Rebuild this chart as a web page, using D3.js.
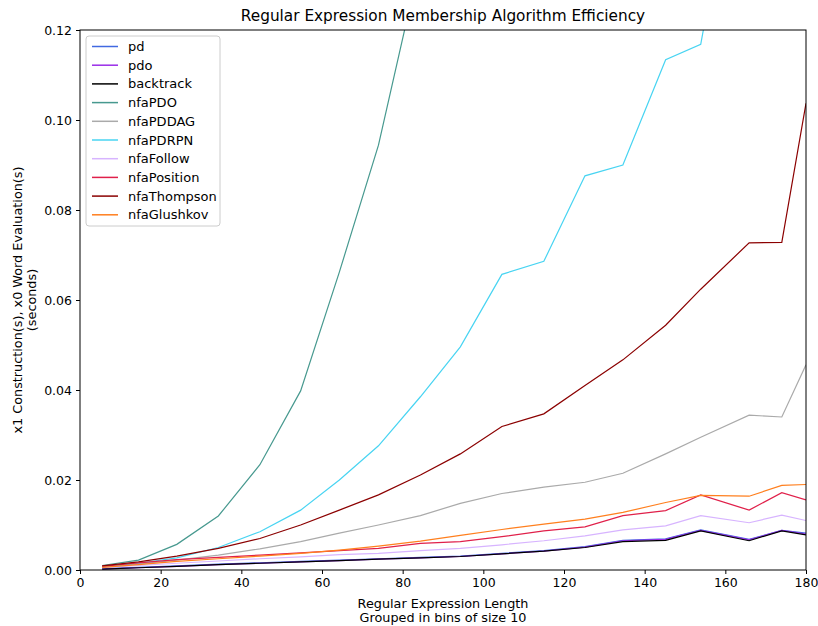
<!DOCTYPE html>
<html>
<head>
<meta charset="utf-8">
<script src="https://cdn.jsdelivr.net/npm/d3@7"></script>
<style>
  body { margin: 0; background: #fff; }
  text { font-family: "DejaVu Sans", sans-serif; }
</style>
</head>
<body>
<svg id="chart" width="818" height="626"></svg>
<script>
// bin centres (regular expression length)
var lengths = [5.5, 14.5, 24, 34.3, 44.6, 54.7, 64.3, 74, 84.4, 94.3, 104.6, 115, 125.2, 134.6, 145.2, 153.9, 165.9, 174, 180];

var pd          = [0.0003, 0.0006, 0.0009, 0.0013, 0.0016, 0.0019, 0.0022, 0.0025, 0.0028, 0.0031, 0.0037, 0.0043, 0.0052, 0.0066, 0.0069, 0.0089, 0.0068, 0.0088, 0.0082];
var pdo         = [0.0002, 0.0005, 0.0008, 0.0012, 0.0015, 0.0018, 0.0021, 0.0024, 0.0027, 0.0030, 0.0036, 0.0042, 0.0051, 0.0065, 0.0068, 0.0088, 0.0067, 0.0088, 0.0080];
var backtrack   = [0.0002, 0.0005, 0.0008, 0.0012, 0.0015, 0.0018, 0.0021, 0.0024, 0.0027, 0.0030, 0.0036, 0.0042, 0.0050, 0.0063, 0.0066, 0.0087, 0.0065, 0.0087, 0.0078];
var nfaPDO      = [0.0010, 0.0022, 0.0057, 0.0120, 0.0234, 0.0398, 0.0662, 0.0944, 0.1355, 0.19, 0.26, 0.33, 0.42, 0.50, 0.60, 0.70, 0.85, 0.95, 1.05];
var nfaPDDAG    = [0.0007, 0.0013, 0.0022, 0.0033, 0.0047, 0.0063, 0.0082, 0.0100, 0.0121, 0.0148, 0.0170, 0.0184, 0.0195, 0.0215, 0.0258, 0.0295, 0.0344, 0.0340, 0.0456];
var nfaPDRPN    = [0.0006, 0.0015, 0.0027, 0.0050, 0.0085, 0.0133, 0.0200, 0.0276, 0.0385, 0.0496, 0.0657, 0.0686, 0.0876, 0.0900, 0.1134, 0.1168, 0.176, 0.19, 0.21];
var nfaFollow   = [0.0005, 0.0010, 0.0015, 0.0020, 0.0025, 0.0029, 0.0034, 0.0037, 0.0043, 0.0048, 0.0056, 0.0065, 0.0076, 0.0089, 0.0098, 0.0121, 0.0105, 0.0122, 0.0110];
var nfaPosition = [0.0008, 0.0016, 0.0023, 0.0028, 0.0033, 0.0038, 0.0043, 0.0048, 0.0059, 0.0063, 0.0074, 0.0087, 0.0096, 0.0121, 0.0132, 0.0167, 0.0133, 0.0172, 0.0156];
var nfaThompson = [0.0009, 0.0018, 0.0031, 0.0048, 0.0070, 0.0100, 0.0133, 0.0167, 0.0211, 0.0258, 0.0319, 0.0347, 0.0410, 0.0467, 0.0544, 0.0624, 0.0727, 0.0728, 0.1037];
var nfaGlushkov = [0.0006, 0.0012, 0.0019, 0.0025, 0.0031, 0.0037, 0.0044, 0.0053, 0.0064, 0.0077, 0.0090, 0.0102, 0.0113, 0.0128, 0.0150, 0.0166, 0.0164, 0.0188, 0.0190];

var names = ["pd", "pdo", "backtrack", "nfaPDO", "nfaPDDAG", "nfaPDRPN", "nfaFollow", "nfaPosition", "nfaThompson", "nfaGlushkov"];
var values = [pd, pdo, backtrack, nfaPDO, nfaPDDAG, nfaPDRPN, nfaFollow, nfaPosition, nfaThompson, nfaGlushkov];
var colors = ["#4169e1", "#9a2de8", "#000000", "#47998f", "#aaaaaa", "#48d4f2", "#d7b4ff", "#e0204a", "#8b0000", "#ff7f1e"];

var xTicks = [0, 20, 40, 60, 80, 100, 120, 140, 160, 180];
var yTicks = [0, 0.02, 0.04, 0.06, 0.08, 0.10, 0.12];

var svg = d3.select("#chart"),
    margin = {top: 30, right: 12, bottom: 56, left: 80},
    width = +svg.attr("width") - margin.left - margin.right,
    height = +svg.attr("height") - margin.top - margin.bottom,
    g = svg.append("g").attr("transform", "translate(" + margin.left + "," + margin.top + ")");

var x = d3.scaleLinear().domain([0, 180]).range([0, width]);
var y = d3.scaleLinear().domain([0, 0.12]).range([height, 0]);

g.append("clipPath").attr("id", "clip")
  .append("rect").attr("width", width).attr("height", height);

var line = d3.line()
    .x(function(d, i) { return x(lengths[i]); })
    .y(function(d) { return y(d); });

g.append("g")
    .attr("clip-path", "url(#clip)")
  .selectAll("path")
  .data(values)
  .enter().append("path")
    .attr("fill", "none")
    .attr("stroke", function(d, i) { return colors[i]; })
    .attr("stroke-width", 1.2)
    .attr("d", line);

// axes
var xAxis = g.append("g")
    .attr("transform", "translate(0," + height + ")")
    .call(d3.axisBottom(x).tickValues(xTicks).tickSize(4).tickPadding(4).tickFormat(d3.format("d")));
var yAxis = g.append("g")
    .call(d3.axisLeft(y).tickValues(yTicks).tickSize(4).tickPadding(4).tickFormat(d3.format(".2f")));
[xAxis, yAxis].forEach(function(a) {
  a.select(".domain").remove();
  a.selectAll("text").attr("font-size", 12.5).attr("fill", "#000").attr("font-family", "DejaVu Sans");
  a.selectAll("line").attr("stroke", "#000");
});

// frame
g.append("rect")
    .attr("width", width)
    .attr("height", height)
    .attr("fill", "none")
    .attr("stroke", "#000")
    .attr("stroke-width", 1);

// title and labels
svg.append("text")
    .attr("x", margin.left + width / 2)
    .attr("y", 21)
    .attr("text-anchor", "middle")
    .attr("font-size", 15.3)
    .text("Regular Expression Membership Algorithm Efficiency");

svg.append("text")
    .attr("x", margin.left + width / 2)
    .attr("y", 608)
    .attr("text-anchor", "middle")
    .attr("font-size", 12.8)
    .text("Regular Expression Length");
svg.append("text")
    .attr("x", margin.left + width / 2)
    .attr("y", 622)
    .attr("text-anchor", "middle")
    .attr("font-size", 12.8)
    .text("Grouped in bins of size 10");

var yl = svg.append("g")
    .attr("transform", "translate(22," + (margin.top + height / 2) + ") rotate(-90)");
yl.append("text")
    .attr("text-anchor", "middle")
    .attr("font-size", 12.8)
    .text("x1 Construction(s), x0 Word Evaluation(s)");
yl.append("text")
    .attr("y", 14)
    .attr("text-anchor", "middle")
    .attr("font-size", 12.8)
    .text("(seconds)");

// legend
var legend = g.append("g").attr("transform", "translate(6,6)");
legend.append("rect")
    .attr("width", 134)
    .attr("height", 190)
    .attr("rx", 3)
    .attr("fill", "#fff")
    .attr("fill-opacity", 0.8)
    .attr("stroke", "#ccc");

var item = legend.selectAll("g.item")
    .data(names)
    .enter().append("g")
    .attr("class", "item")
    .attr("transform", function(d, i) { return "translate(0," + (10.5 + i * 18.7) + ")"; });

item.append("line")
    .attr("x1", 6).attr("x2", 32)
    .attr("stroke", function(d, i) { return colors[i]; })
    .attr("stroke-width", 1.5);

item.append("text")
    .attr("x", 42)
    .attr("dy", "0.35em")
    .attr("font-size", 13)
    .text(function(d) { return d; });
</script>
</body>
</html>
